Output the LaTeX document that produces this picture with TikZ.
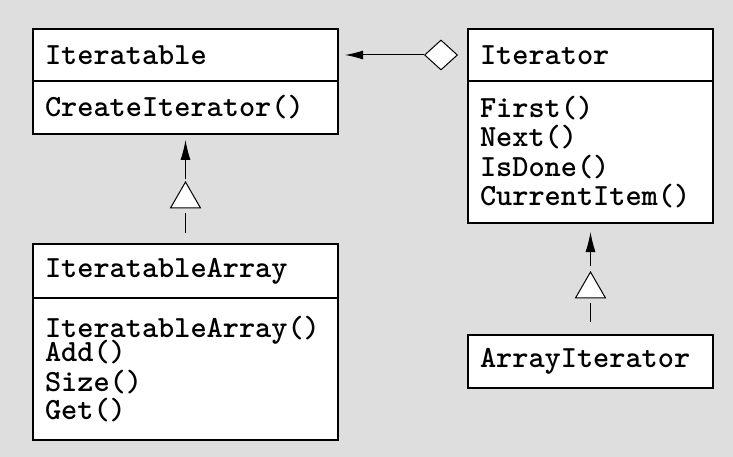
\documentclass[tikz,border=0pt]{standalone}
\usepackage{fontspec}
\usetikzlibrary{positioning}
\usetikzlibrary{shapes.geometric}
\usetikzlibrary{arrows.meta}

\newcommand{\umlfont}{\ttfamily\bfseries\fontsize{30.8}{29.5}\selectfont}

\begin{document}
\begin{tikzpicture}[x=1pt,y=1pt,
  classbox/.style={draw,fill=white,line width=1.2pt,outer sep=0pt,font=\umlfont,align=left,inner xsep=12pt,inner ysep=0pt},
  wide/.style={text width=281pt},
  narrow/.style={text width=221pt},
  inherit/.style={draw,fill=white,line width=1pt,regular polygon,regular polygon sides=3,minimum size=34.6pt,inner sep=0pt},
  link/.style={line width=1pt}]

\fill[black!13] (0,0) rectangle (733,-457);

\node[classbox,wide,minimum height=52pt] (iterable) at (185.5,-55) {Iteratable};
\node[classbox,wide,minimum height=53pt,below=0pt of iterable] (iterable ops) {CreateIterator()};

\node[classbox,narrow,minimum height=52pt] (iterator) at (590.5,-55) {Iterator};
\node[classbox,narrow,minimum height=142pt,below=0pt of iterator] (iterator ops) {First()\\Next()\\IsDone()\\CurrentItem()};

\node[classbox,wide,minimum height=54pt] (array) at (185.5,-271) {IteratableArray};
\node[classbox,wide,minimum height=142pt,below=0pt of array] (array ops) {IteratableArray()\\[-5.5pt]Add()\\[0.5pt]Size()\\[-1.5pt]Get()};

\node[classbox,narrow,minimum height=53pt] (array it) at (590.5,-361.5) {ArrayIterator};

\node[draw,fill=white,line width=1pt,diamond,minimum width=33pt,minimum height=30pt,inner sep=0pt] (agg) at (441,-55) {};
\draw[link,-{Latex[length=18pt,width=9pt]},shorten >=7pt] (agg) -- (iterable);

\node[inherit] (gen a) at (185.5,-199.3) {};
\draw[link,-{Latex[length=20pt,width=10pt]},shorten <=2pt,shorten >=6pt] (gen a.north) -- (iterable ops.south);
\draw[link,shorten <=5pt,shorten >=11pt] (gen a.south) -- (array.north);

\node[inherit] (gen b) at (590.5,-289.3) {};
\draw[link,-{Latex[length=20pt,width=10pt]},shorten <=5pt,shorten >=9pt] (gen b.north) -- (iterator ops.south);
\draw[link,shorten <=5pt,shorten >=13pt] (gen b.south) -- (array it.north);
\end{tikzpicture}
\end{document}
